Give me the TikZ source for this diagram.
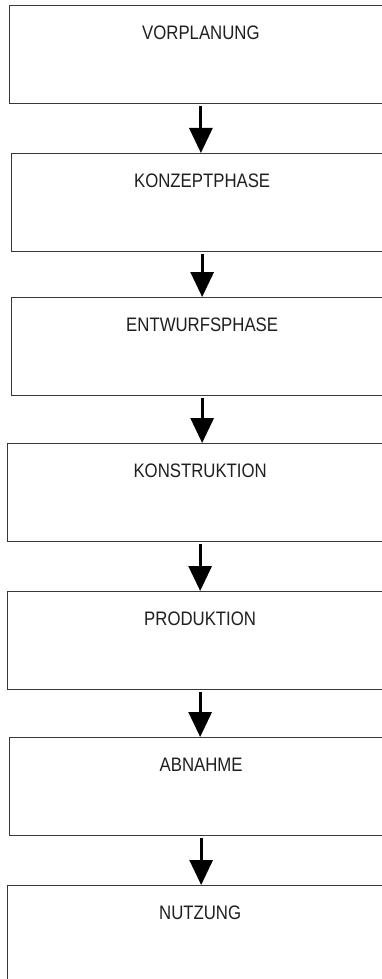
\documentclass[tikz,border=0pt]{standalone}
\usepackage{fontspec}
\usetikzlibrary{arrows.meta}
\newfontfamily\phasefont[FakeStretch=0.86]{Liberation Sans}
\begin{document}
\begin{tikzpicture}[x=1pt,y=1pt,
  phase/.style={draw=black!78,line width=1.3pt,anchor=north west,
    inner xsep=0pt,inner ysep=0pt,text height=34pt,text depth=64pt,
    font=\phasefont\fontsize{19.5}{20}\selectfont,text=black!88},
  flow/.style={line width=3pt,shorten <=2pt,
    -{Triangle[width=23pt,length=25pt]}}]
  \clip (0,0) rectangle (382,-979);
  \fill[white] (0,0) rectangle (382,-979);
  \node[phase,minimum width=383.5pt] (vorplanung) at (8.5,-5) {VORPLANUNG};
  \node[phase,minimum width=381pt] (konzept) at (11,-153) {KONZEPTPHASE};
  \node[phase,minimum width=381pt] (entwurf) at (11,-297) {ENTWURFSPHASE};
  \node[phase,minimum width=385pt] (konstruktion) at (7,-443) {KONSTRUKTION};
  \node[phase,minimum width=385pt] (produktion) at (7,-591) {PRODUKTION};
  \node[phase,minimum width=383pt] (abnahme) at (9,-737) {ABNAHME};
  \node[phase,minimum width=385pt] (nutzung) at (7,-885) {NUTZUNG};
  % arrows between phases
  \draw[flow] (vorplanung.south) -- (vorplanung.south |- konzept.north);
  \draw[flow] (konzept.south) -- (konzept.south |- entwurf.north);
  \draw[flow] (entwurf.south) -- (entwurf.south |- konstruktion.north);
  \draw[flow] (konstruktion.south) -- (konstruktion.south |- produktion.north);
  \draw[flow] (produktion.south) -- (produktion.south |- abnahme.north);
  \draw[flow] (abnahme.south) -- (abnahme.south |- nutzung.north);
\end{tikzpicture}
\end{document}
